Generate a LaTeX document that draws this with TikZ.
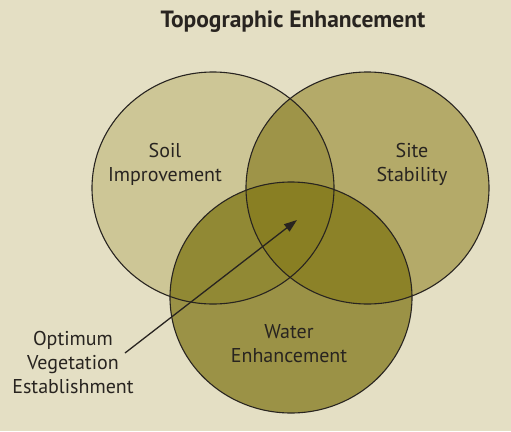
\documentclass[tikz,border=0pt]{standalone}
\usepackage{fontspec}
\setmainfont{PT Sans}
\usetikzlibrary{arrows.meta}
\definecolor{paper}{RGB}{228,223,196}
\definecolor{soilfill}{RGB}{205,198,150}
\definecolor{sitefill}{RGB}{180,170,105}
\definecolor{waterfill}{RGB}{155,146,70}
\definecolor{soilsite}{RGB}{158,148,72}
\definecolor{soilwater}{RGB}{145,137,52}
\definecolor{sitewater}{RGB}{140,130,40}
\definecolor{allthree}{RGB}{137,127,35}
\definecolor{inkdark}{RGB}{40,36,32}

\begin{document}
\begin{tikzpicture}[x=1pt,y=-1pt,
    label/.style={align=center, text=inkdark, font=\fontsize{20}{24}\selectfont},
    title/.style={text=inkdark, font=\fontsize{23.5}{26}\selectfont\bfseries},
    rim/.style={draw=inkdark, line width=1.1pt},
    arr/.style={-{Triangle[length=13pt,width=9pt]}, draw=inkdark, line width=1.3pt}
]
    \fill[paper] (0,0) rectangle (511,431);
    \useasboundingbox (0,0) rectangle (511,431);

    \def\soil{(213,188) ellipse [x radius=121pt, y radius=116pt]}
    \def\site{(367.5,188) ellipse [x radius=121.5pt, y radius=116pt]}
    \def\water{(291,297.5) ellipse [x radius=121pt, y radius=115.5pt]}

    \fill[soilfill] \soil;
    \fill[sitefill] \site;
    \fill[waterfill] \water;
    \begin{scope}
        \clip \soil;
        \fill[soilsite] \site;
        \fill[soilwater] \water;
    \end{scope}
    \begin{scope}
        \clip \site;
        \fill[sitewater] \water;
        \clip \soil;
        \fill[allthree] \water;
    \end{scope}
    \draw[rim] \soil;
    \draw[rim] \site;
    \draw[rim] \water;

    \node[title] (head) at (293,22) {Topographic Enhancement};
    \node[label] (soil) at (165,164) {Soil\\Improvement};
    \node[label] (site) at (412,164) {Site\\Stability};
    \node[label] (water) at (289,344) {Water\\Enhancement};
    \node[label] (optimum) at (73,362) {Optimum\\Vegetation\\Establishment};

    \coordinate (tail) at (125,353);
    \coordinate (tip) at (297,220);
    \draw[arr] (tail) -- (tip);
\end{tikzpicture}
\end{document}
